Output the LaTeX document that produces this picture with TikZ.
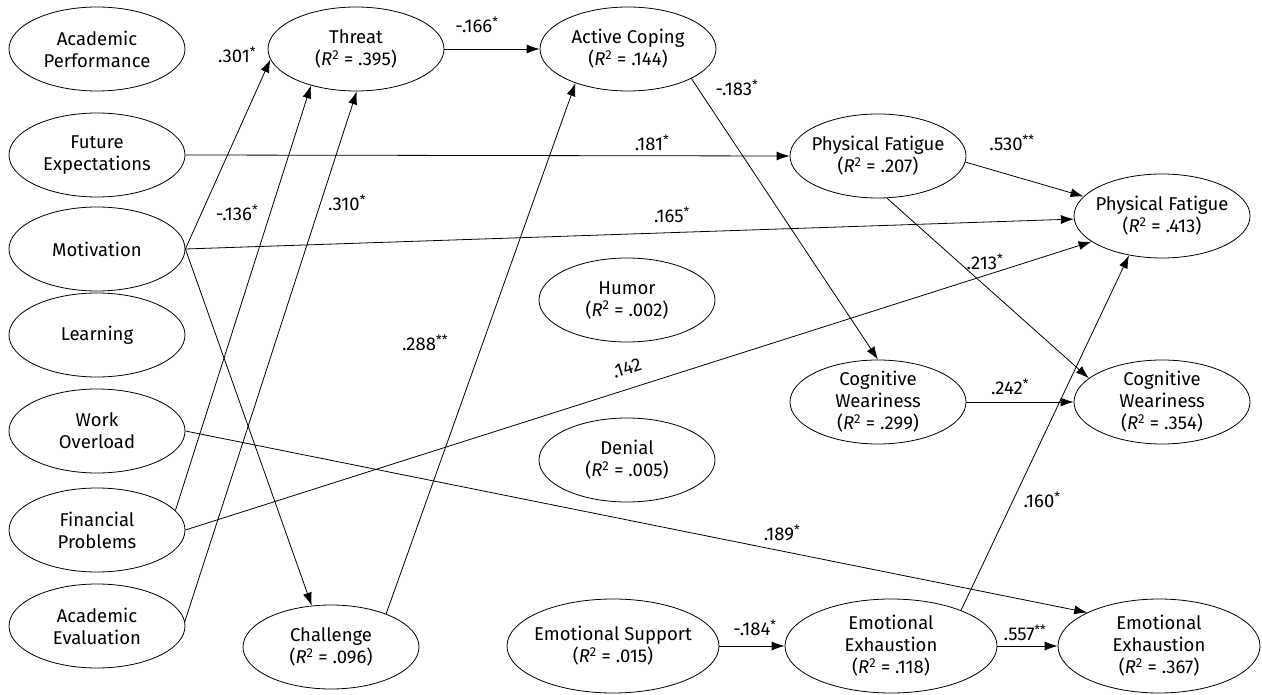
\documentclass[tikz,border=0pt]{standalone}
\usepackage{fontspec}
\setmainfont{Fira Sans}
\usetikzlibrary{shapes.geometric,arrows.meta}
\newcommand{\rsq}[1]{(\textit{R}\textsuperscript{2} = #1)}
\begin{document}
\begin{tikzpicture}[x=1pt,y=-1pt,
  lat/.style={ellipse, draw, line width=0.8pt, minimum width=176pt, minimum height=84pt,
    inner xsep=-90pt, inner ysep=-45pt, align=center, font=\fontsize{18.5}{22}\selectfont},
  latw/.style={lat, minimum width=212pt, minimum height=94pt},
  conn/.style={line width=0.8pt, -{Latex[length=13pt,width=9pt]}},
  lab/.style={font=\fontsize{18.5}{22}\selectfont, inner sep=0pt}]
\fill[white] (0,0) rectangle (1262,695);
\useasboundingbox (0,0) rectangle (1262,695);
% left column
\node[lat] (ap)  at (97,49)  {Academic\\Performance};
\node[lat] (fe)  at (97,155) {Future\\Expectations};
\node[lat] (mot) at (97,249) {Motivation};
\node[lat] (lea) at (97,335) {Learning};
\node[lat] (wo)  at (97,431) {Work\\Overload};
\node[lat] (fp)  at (97,530) {Financial\\Problems};
\node[lat] (ae)  at (97,626) {Academic\\Evaluation};
% middle
\node[lat] (thr) at (356,49)  {Threat\\\rsq{.395}};
\node[lat] (ac)  at (628,49)  {Active Coping\\\rsq{.144}};
\node[lat] (hum) at (627,300) {Humor\\\rsq{.002}};
\node[lat] (den) at (627,460) {Denial\\\rsq{.005}};
\node[lat] (cha) at (331,647) {Challenge\\\rsq{.096}};
\node[latw] (es) at (613,646) {Emotional Support\\\rsq{.015}};
% right
\node[lat] (pf1) at (878,156) {Physical Fatigue\\\rsq{.207}};
\node[lat] (cw1) at (878,402) {Cognitive\\Weariness\\\rsq{.299}};
\node[lat] (pf2) at (1162,216) {Physical Fatigue\\\rsq{.413}};
\node[lat] (cw2) at (1162,402) {Cognitive\\Weariness\\\rsq{.354}};
\node[latw] (ee1) at (891,646) {Emotional\\Exhaustion\\\rsq{.118}};
\node[latw, minimum width=202pt] (ee2) at (1159,646) {Emotional\\Exhaustion\\\rsq{.367}};
% connectors
\draw[conn] (mot.east) -- (thr.187);
\draw[conn] (fp.14) -- (thr.219);
\draw[conn] (ae.3) -- (thr.271);
\draw[conn] (thr.east) -- (ac.west);
\draw[conn] (cha.31) -- (ac.213);
\draw[conn] (mot.east) -- (cha.115);
\draw[conn] (fe.east) -- (pf1.west);
\draw[conn] (mot.east) -- (pf2.182);
\draw[conn] (pf1.-4) -- (pf2.166);
\draw[conn] (fp.east) -- (pf2.200);
\draw[conn] (wo.east) -- (ee2.155);
\draw[conn] (ac.-25) -- (cw1.north);
\draw[conn] (pf1.282) -- (cw2.162);
\draw[conn] (cw1.east) -- (cw2.west);
\draw[conn] (ee1.27) -- (pf2.230);
\draw[conn] (es.east) -- (ee1.west);
\draw[conn] (ee1.east) -- (ee2.west);
% labels
\node[lab] (l1)  at (237,55)  {.301\textsuperscript{*}};
\node[lab] (l2)  at (237,213) {-.136\textsuperscript{*}};
\node[lab] (l3)  at (347,203) {.310\textsuperscript{*}};
\node[lab] (l4)  at (477,25)  {-.166\textsuperscript{*}};
\node[lab] (l5)  at (652,143) {.181\textsuperscript{*}};
\node[lab] (l6)  at (672,215) {.165\textsuperscript{*}};
\node[lab] (l7)  at (737,88)  {-.183\textsuperscript{*}};
\node[lab] (l8)  at (1012,143) {.530\textsuperscript{**}};
\node[lab] (l9)  at (985,262) {.213\textsuperscript{*}};
\node[lab, rotate=17.6] (l10) at (627,368) {.142};
\node[lab] (l11) at (425,343) {.288\textsuperscript{**}};
\node[lab] (l12) at (1010,387) {.242\textsuperscript{*}};
\node[lab] (l13) at (1042,500) {.160\textsuperscript{*}};
\node[lab] (l14) at (782,533) {.189\textsuperscript{*}};
\node[lab] (l15) at (755,628) {-.184\textsuperscript{*}};
\node[lab] (l16) at (1025,633) {.557\textsuperscript{**}};
\end{tikzpicture}
\end{document}
